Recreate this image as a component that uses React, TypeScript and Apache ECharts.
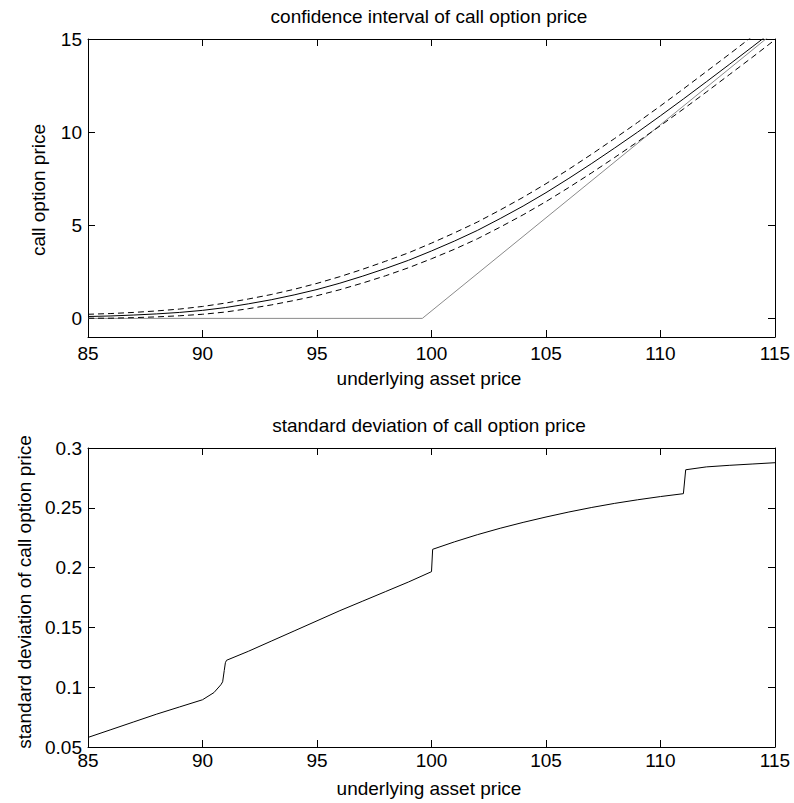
import React, { useEffect, useRef } from "react";
import * as echarts from "echarts";

// ---------- data ----------
const priceS = [85, 86, 87, 88, 89, 90, 91, 92, 93, 94, 95, 96, 97, 98, 99, 100, 101, 102, 103, 104, 105, 106, 107, 108, 109, 110, 111, 112, 113, 114, 115];
const callMid = [0.10, 0.13, 0.18, 0.24, 0.32, 0.43, 0.58, 0.78, 1.00, 1.26, 1.55, 1.89, 2.27, 2.68, 3.12, 3.62, 4.15, 4.72, 5.36, 6.03, 6.75, 7.52, 8.32, 9.15, 10.00, 10.88, 11.78, 12.70, 13.63, 14.57, 15.52];
const callUpper = [0.22, 0.26, 0.32, 0.40, 0.50, 0.64, 0.82, 1.04, 1.28, 1.56, 1.88, 2.24, 2.64, 3.07, 3.52, 4.04, 4.59, 5.17, 5.82, 6.50, 7.23, 8.01, 8.82, 9.66, 10.52, 11.41, 12.32, 13.25, 14.18, 15.13, 16.08];
const callLower = [0.01, 0.01, 0.04, 0.08, 0.14, 0.22, 0.34, 0.52, 0.72, 0.96, 1.22, 1.54, 1.90, 2.29, 2.72, 3.20, 3.71, 4.27, 4.90, 5.56, 6.27, 7.03, 7.82, 8.64, 9.48, 10.35, 11.24, 12.15, 13.08, 14.01, 14.96];
const payoffS = [85, 99.6, 115];
const payoffV = [0, 0, 15.4];

const sdS = [85, 86, 87, 88, 89, 90, 90.5, 90.8, 90.88, 90.95, 91.0, 91.05, 92, 93, 94, 95, 96, 97, 98, 99, 100.0, 100.05, 101, 102, 103, 104, 105, 106, 107, 108, 109, 110, 111.0, 111.1, 112, 113, 114, 115];
const sdV = [0.058, 0.0645, 0.071, 0.0775, 0.0835, 0.0895, 0.0955, 0.102, 0.1045, 0.114, 0.1205, 0.1225, 0.130, 0.1385, 0.147, 0.1555, 0.164, 0.172, 0.180, 0.188, 0.1966, 0.2153, 0.2215, 0.2275, 0.2329, 0.2378, 0.2423, 0.2465, 0.2503, 0.2537, 0.2567, 0.2594, 0.2618, 0.2818, 0.2842, 0.2855, 0.2866, 0.2877];

const xTicks = [85, 90, 95, 100, 105, 110, 115];
const topYTicks = [0, 5, 10, 15];
const bottomYTicks = [0.05, 0.1, 0.15, 0.2, 0.25, 0.3];

const topTitle = "confidence interval of call option price";
const bottomTitle = "standard deviation of call option price";
const xName = "underlying asset price";
const topYName = "call option price";
const bottomYName = "standard deviation of call option price";

// ---------- styling ----------
const FONT = "'Liberation Sans', Arial, Helvetica, sans-serif";
const FS = 19;

function pairs(xs: number[], ys: number[]) {
  return xs.map((x, i) => [x, ys[i]]);
}

function xAxisPair(gridIndex: number, labelMargin: number) {
  const base = {
    type: "value",
    gridIndex,
    min: 85,
    max: 115,
    splitLine: { show: false },
    axisLine: { show: true, onZero: false, lineStyle: { color: "#000", width: 1 } },
    axisTick: { show: true, inside: true, length: 7, customValues: xTicks, lineStyle: { color: "#000", width: 1 } },
  };
  return [
    { ...base, position: "bottom", axisLabel: { show: true, customValues: xTicks, margin: labelMargin, color: "#000", fontSize: FS, fontFamily: FONT } },
    { ...base, position: "top", axisLabel: { show: false } },
  ];
}

function yAxisPair(gridIndex: number, min: number, max: number, ticks: number[]) {
  const base = {
    type: "value",
    gridIndex,
    min,
    max,
    splitLine: { show: false },
    axisLine: { show: true, onZero: false, lineStyle: { color: "#000", width: 1 } },
    axisTick: { show: true, inside: true, length: 7, customValues: ticks, lineStyle: { color: "#000", width: 1 } },
  };
  return [
    { ...base, position: "left", axisLabel: { show: true, customValues: ticks, margin: 6, color: "#000", fontSize: FS, fontFamily: FONT } },
    { ...base, position: "right", axisLabel: { show: false } },
  ];
}

function txt(text: string, x: number, y: number, rotation = 0) {
  return {
    type: "text",
    x,
    y,
    rotation,
    silent: true,
    style: { text, fill: "#000", font: `${FS}px ${FONT}`, textAlign: "center", textVerticalAlign: "middle" },
  };
}

export default function App() {
  const ref = useRef<HTMLDivElement>(null);

  useEffect(() => {
    if (!ref.current) return;
    const chart = echarts.init(ref.current, undefined, { renderer: "svg" });
    const option = {
      animation: false,
      backgroundColor: "#fff",
      grid: [
        { left: 88, top: 39, width: 687, height: 298 },
        { left: 88, top: 448, width: 687, height: 299 },
      ],
      xAxis: [...xAxisPair(0, 7), ...xAxisPair(1, 4)],
      yAxis: [...yAxisPair(0, -1, 15, topYTicks), ...yAxisPair(1, 0.05, 0.3, bottomYTicks)],
      series: [
        {
          type: "line", xAxisIndex: 0, yAxisIndex: 0, data: pairs(payoffS, payoffV),
          symbol: "none", lineStyle: { color: "#8a8a8a", width: 1 }, clip: true,
        },
        {
          type: "line", xAxisIndex: 0, yAxisIndex: 0, data: pairs(priceS, callUpper),
          symbol: "none", lineStyle: { color: "#000", width: 1, type: [6, 4] }, clip: true,
        },
        {
          type: "line", xAxisIndex: 0, yAxisIndex: 0, data: pairs(priceS, callLower),
          symbol: "none", lineStyle: { color: "#000", width: 1, type: [6, 4] }, clip: true,
        },
        {
          type: "line", xAxisIndex: 0, yAxisIndex: 0, data: pairs(priceS, callMid),
          symbol: "none", lineStyle: { color: "#000", width: 1 }, clip: true,
        },
        {
          type: "line", xAxisIndex: 2, yAxisIndex: 2, data: pairs(sdS, sdV),
          symbol: "none", lineStyle: { color: "#000", width: 1 }, clip: true,
        },
      ],
      graphic: [
        txt(topTitle, 429, 16.5),
        txt(xName, 429, 378),
        txt(topYName, 38.5, 190, Math.PI / 2),
        txt(bottomTitle, 429, 425),
        txt(xName, 429, 788),
        txt(bottomYName, 24.5, 592, Math.PI / 2),
      ],
    };
    chart.setOption(option as any);
    return () => chart.dispose();
  }, []);

  return (
    <div
      ref={ref}
      style={{ position: "fixed", left: 0, top: 0, width: 794, height: 803, background: "#fff" }}
    />
  );
}
